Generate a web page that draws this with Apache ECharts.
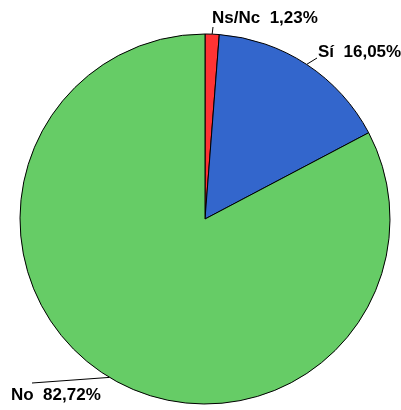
<!DOCTYPE html>
<html>
<head>
<meta charset="utf-8">
<script src="https://cdn.jsdelivr.net/npm/echarts@6/dist/echarts.min.js"></script>
<style>
html,body{margin:0;padding:0;background:#fff;}
#chart{width:401px;height:410px;}
</style>
</head>
<body>
<div id="chart"></div>
<script>
// categorias y porcentajes
var categories = ['Ns/Nc', 'Sí', 'No'];
var values = [1.23, 16.05, 82.72];
var colors = ['#ff3333', '#3366cc', '#66cc66'];

// posicion de las etiquetas (texto y final de la linea guia)
var labelPos = [
	{ x: 212, y: 18, lx: 213, ly: 27 },
	{ x: 318, y: 52, lx: 317, ly: 58 },
	{ x: 11, y: 395, lx: 32, ly: 383 }
];

var myChart = echarts.init(document.getElementById('chart'));
var data = [];
for (var i = 0; i < categories.length; i++) {
	data.push({ name: categories[i], value: values[i] });
}
var option = {
	animation: false,
	color: colors,
	series: [{
		type: 'pie',
		center: [205, 219],
		radius: 185,
		startAngle: 90,
		clockwise: true,
		data: data,
		itemStyle: {
			borderColor: '#000',
			borderWidth: 1
		},
		label: {
			show: true,
			position: 'outside',
			overflow: 'none',
			color: '#000',
			fontFamily: 'Liberation Sans, Arial, sans-serif',
			fontWeight: 'bold',
			fontSize: 17,
			formatter: function (p) {
				return p.name + '  ' + p.value.toFixed(2).replace('.', ',') + '%';
			}
		},
		labelLine: {
			show: true,
			length: 5,
			length2: 5,
			lineStyle: { color: '#000', width: 1 }
		},
		labelLayout: function (p) {
			var lp = labelPos[p.dataIndex];
			var start = p.labelLinePoints ? p.labelLinePoints[0] : [lp.lx, lp.ly];
			return {
				x: lp.x,
				y: lp.y,
				width: 120,
				align: 'left',
				verticalAlign: 'middle',
				labelLinePoints: [start, [lp.lx, lp.ly], [lp.lx, lp.ly]]
			};
		},
		emphasis: { disabled: true }
	}]
};
myChart.setOption(option);
</script>
</body>
</html>
